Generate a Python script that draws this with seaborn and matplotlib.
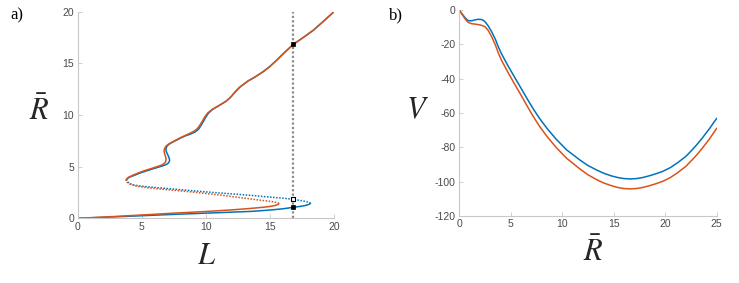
import matplotlib
matplotlib.use("Agg")
import matplotlib.pyplot as plt
import seaborn as sns
import pandas as pd

# ---------------- data: panel a (R-bar vs L) ----------------
# orange series
a_or_low_L = [0, 2.5, 5, 7.5, 10, 11.1, 12.4, 13.7, 14.5, 15.0, 15.4, 15.62, 15.7]
a_or_low_R = [0, 0.15, 0.32, 0.5, 0.66, 0.74, 0.85, 0.98, 1.07, 1.15, 1.24, 1.33, 1.42]
a_or_mid_L = [15.7, 15.62, 15.4, 15.0, 14.4, 13.7, 12.4, 11.1, 9.8, 8.5, 7.2, 5.9, 4.9,
              4.4, 4.05, 3.85, 3.77]
a_or_mid_R = [1.42, 1.5, 1.57, 1.64, 1.73, 1.84, 2.05, 2.25, 2.43, 2.6, 2.75, 2.9, 3.05,
              3.17, 3.32, 3.5, 3.7]
a_or_up_L = [3.77, 3.85, 3.98, 4.34, 4.85, 5.38, 5.8, 6.2, 6.5, 6.72, 6.86, 6.9, 6.86,
             6.78, 6.74, 6.77, 6.87, 7.05, 7.4, 7.98, 8.4, 8.76, 9.1, 9.35, 9.55, 9.75,
             9.93, 10.15, 10.5, 11.1, 11.6, 11.95, 12.3, 12.65, 12.92, 13.3, 13.8, 14.48,
             15.0, 15.52, 16.1, 16.82, 17.6, 18.38, 19.2, 20]
a_or_up_R = [3.7, 3.85, 3.98, 4.19, 4.45, 4.68, 4.84, 5.0, 5.13, 5.27, 5.45, 5.7, 5.97,
             6.25, 6.5, 6.72, 6.95, 7.15, 7.4, 7.78, 8.02, 8.23, 8.45, 8.7, 9.05, 9.45,
             9.84, 10.2, 10.55, 10.97, 11.35, 11.75, 12.25, 12.7, 12.95, 13.3, 13.65, 14.2,
             14.7, 15.3, 16.0, 16.84, 17.5, 18.2, 19.1, 20]
# blue series
a_bl_low_L = [0, 2.5, 5, 7.5, 10, 11.1, 13.7, 15.0, 16.0, 16.8, 17.4, 17.8, 18.05, 18.17]
a_bl_low_R = [0, 0.12, 0.25, 0.38, 0.5, 0.55, 0.68, 0.8, 0.92, 1.06, 1.16, 1.25, 1.35, 1.45]
a_bl_mid_L = [18.17, 18.05, 17.8, 17.4, 16.8, 16.0, 15.0, 13.7, 12.4, 11.1, 9.8, 8.5, 7.2,
              5.9, 4.9, 4.4, 4.1, 3.9, 3.8]
a_bl_mid_R = [1.45, 1.55, 1.63, 1.72, 1.84, 1.95, 2.05, 2.2, 2.33, 2.45, 2.58, 2.72, 2.86,
              3.0, 3.12, 3.22, 3.35, 3.52, 3.7]
a_bl_up_L = [3.8, 3.88, 4.0, 4.4, 4.9, 5.4, 5.85, 6.3, 6.65, 6.9, 7.08, 7.17, 7.15, 7.05,
             6.93, 6.88, 6.95, 7.1, 7.45, 8.0, 8.4, 8.8, 9.15, 9.42, 9.62, 9.82,
             10.0, 10.2, 10.52, 11.1, 11.6, 11.95, 12.3, 12.65, 12.92, 13.3, 13.8, 14.48,
             15.0, 15.52, 16.1, 16.82, 17.6, 18.38, 19.2, 20]
a_bl_up_R = [3.7, 3.84, 3.96, 4.15, 4.4, 4.6, 4.78, 4.95, 5.08, 5.2, 5.35, 5.55, 5.8, 6.1,
             6.4, 6.68, 6.95, 7.15, 7.4, 7.75, 7.98, 8.15, 8.35, 8.6, 8.98, 9.4,
             9.8, 10.17, 10.53, 10.97, 11.35, 11.75, 12.25, 12.7, 12.95, 13.3, 13.65, 14.2,
             14.7, 15.3, 16.0, 16.84, 17.5, 18.2, 19.1, 20]
a_vline_L = 16.8
a_marks_R_filled = [16.84, 1.06]
a_marks_R_open = [1.84]

# ---------------- data: panel b (V vs R-bar) ----------------
b_R = [0, 0.3, 0.6, 0.87, 1.2, 1.5, 1.84, 2.2, 2.5, 2.8, 3.14, 3.5, 3.79, 4.1, 4.44,
       4.76, 5.5, 6.06, 6.6, 7.18, 7.8, 8.5, 9.4, 10.43, 11.72, 12.5, 13.34, 14, 14.7,
       15.4, 16, 16.6, 17.2, 17.8, 18.5, 19.2, 19.8, 20.5, 21.2, 22, 22.6, 23.05, 23.6,
       24.3, 25]
b_bl_V = [0, -2.5, -4.8, -6.2, -6.3, -5.8, -5.4, -5.6, -6.8, -9.2, -12.6, -17, -21.4,
          -25.5, -29.3, -32.8, -40.5, -46.2, -51.8, -57.6, -63.2, -68.8, -75.2, -81.5,
          -87.4, -90.6, -93.2, -95.0, -96.5, -97.6, -98.2, -98.4, -98.2, -97.6, -96.5,
          -95.2, -93.9, -91.8, -89, -85.3, -81.6, -78.6, -74.6, -69.1, -63.1]
b_or_V = [0, -2.8, -5.5, -7.2, -8.0, -8.2, -8.5, -9.0, -9.8, -11.8, -15.5, -20.3, -25.0,
          -29.3, -33.1, -36.7, -44.5, -50.3, -56.0, -62.0, -67.8, -73.5, -80.0, -86.4,
          -92.6, -96.0, -98.8, -100.7, -102.2, -103.4, -104.0, -104.2, -104.0, -103.4,
          -102.3, -101.0, -99.7, -97.6, -94.8, -91.1, -87.4, -84.5, -80.5, -75.1, -68.9]

a_xticks = [0, 5, 10, 15, 20]
a_yticks = [0, 5, 10, 15, 20]
b_xticks = [0, 5, 10, 15, 20, 25]
b_yticks = [0, -20, -40, -60, -80, -100, -120]

BLUE = "#0072BD"
ORANGE = "#D95319"

sns.set_theme(style="white")
plt.rcParams["font.family"] = ["Liberation Sans", "DejaVu Sans"]
plt.rcParams["mathtext.fontset"] = "stix"

fig = plt.figure(figsize=(7.39, 2.83), dpi=100)
ax1 = fig.add_axes([0.1051, 0.2286, 0.3469, 0.7301])
ax2 = fig.add_axes([0.6215, 0.2367, 0.3483, 0.7280])


def seg(ax, L, R, color, dotted=False):
    df = pd.DataFrame({"x": L, "y": R})
    ls = (0, (1, 1)) if dotted else "-"
    sns.lineplot(data=df, x="x", y="y", sort=False, estimator=None, ax=ax,
                 color=color, linewidth=1.1, linestyle=ls)


# panel a
ax1.axvline(a_vline_L, color="#8c8c8c", linestyle=(0, (1, 1)), linewidth=1.6, zorder=1)
seg(ax1, a_bl_low_L, a_bl_low_R, BLUE)
seg(ax1, a_bl_mid_L, a_bl_mid_R, BLUE, dotted=True)
seg(ax1, a_bl_up_L, a_bl_up_R, BLUE)
seg(ax1, a_or_low_L, a_or_low_R, ORANGE)
seg(ax1, a_or_mid_L, a_or_mid_R, ORANGE, dotted=True)
seg(ax1, a_or_up_L, a_or_up_R, ORANGE)
sns.scatterplot(x=[a_vline_L] * len(a_marks_R_filled), y=a_marks_R_filled, ax=ax1,
                marker="s", s=8, color="black", edgecolor="black", linewidth=0.5, zorder=5)
sns.scatterplot(x=[a_vline_L] * len(a_marks_R_open), y=a_marks_R_open, ax=ax1,
                marker="s", s=8, color="white", edgecolor="black", linewidth=0.8, zorder=5)

ax1.set_xlim(0, 20)
ax1.set_ylim(0, 20)
ax1.set_xticks(a_xticks)
ax1.set_yticks(a_yticks)
ax1.set_xticklabels([str(t) for t in a_xticks])
ax1.set_yticklabels([str(t) for t in a_yticks])
ax1.set_xlabel(r"$L$", fontsize=22)
ax1.set_ylabel(r"$\bar{R}$", fontsize=22, rotation=0)
ax1.xaxis.set_label_coords(0.504, -0.182, transform=ax1.transAxes)
ax1.yaxis.set_label_coords(-0.151, 0.514, transform=ax1.transAxes)
ax1.xaxis.label.set_va("center")
ax1.yaxis.label.set_va("center")
ax1.yaxis.label.set_ha("center")

# panel b
seg(ax2, b_R, b_bl_V, BLUE)
seg(ax2, b_R, b_or_V, ORANGE)
ax2.set_xlim(0, 25)
ax2.set_ylim(-120, 0)
ax2.set_xticks(b_xticks)
ax2.set_yticks(b_yticks)
ax2.set_xticklabels([str(t) for t in b_xticks])
ax2.set_yticklabels([str(t) for t in b_yticks])
ax2.set_xlabel(r"$\bar{R}$", fontsize=22)
ax2.set_ylabel(r"$V$", fontsize=22, rotation=0)
ax2.xaxis.set_label_coords(0.519, -0.18, transform=ax2.transAxes)
ax2.yaxis.set_label_coords(-0.164, 0.515, transform=ax2.transAxes)
ax2.xaxis.label.set_va("center")
ax2.yaxis.label.set_va("center")
ax2.yaxis.label.set_ha("center")

for ax in (ax1, ax2):
    sns.despine(ax=ax)
    for s in ("left", "bottom"):
        ax.spines[s].set_color("#c8c8c8")
        ax.spines[s].set_linewidth(0.8)
    ax.tick_params(direction="in", length=3, width=0.6, color="#c8c8c8",
                   labelsize=7.5, labelcolor="#4a4a4a", pad=2.5, bottom=True, left=True)

fig.text(17 / 739, 1 - 15 / 283, "a)", family="Liberation Serif", fontsize=12,
         ha="center", va="center", color="black")
fig.text(396 / 739, 1 - 15 / 283, "b)", family="Liberation Serif", fontsize=12,
         ha="center", va="center", color="black")

fig.savefig("out.png", dpi=100)
